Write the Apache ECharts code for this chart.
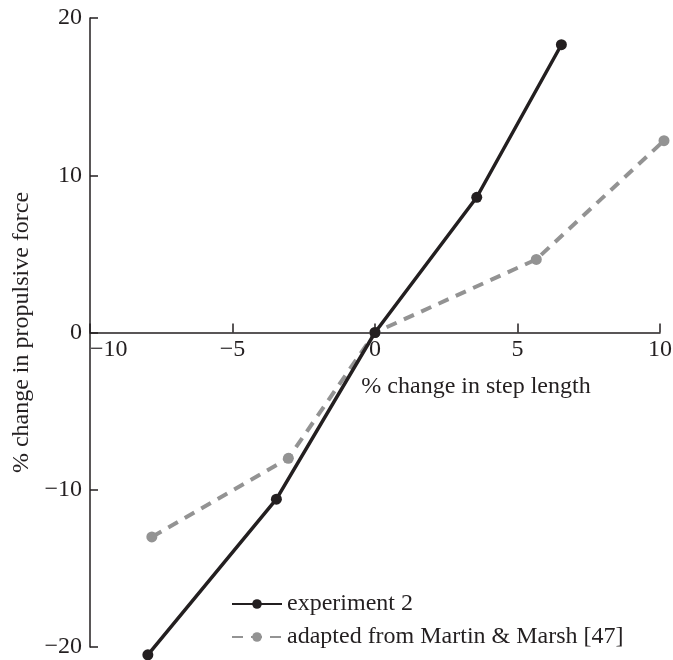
<!DOCTYPE html>
<html>
<head>
<meta charset="utf-8">
<script src="https://cdn.jsdelivr.net/npm/echarts@6/dist/echarts.min.js"></script>
<style>
  html, body { margin: 0; padding: 0; background: #fff; }
  #chart { width: 673px; height: 660px; }
</style>
</head>
<body>
<div id="chart"></div>
<script>
// % change in step length vs % change in propulsive force
const experimentX = [-7.97, -3.46, 0, 3.57, 6.54];
const experimentY = [-20.5, -10.6, 0, 8.6, 18.3];
const martinX = [-7.83, -3.04, 0, 5.66, 10.14];
const martinY = [-13.0, -8.0, 0, 4.65, 12.2];
const xTicks = [-10, -5, 0, 5, 10];
const yTicks = [-20, -10, 0, 10, 20];

const font = '"Liberation Serif", "DejaVu Serif", serif';
const ink = '#231f20';
const grey = '#939393';
const minus = v => String(v).replace('-', '\u2212');

const pairs = (xs, ys) => xs.map((x, i) => [x, ys[i]]);

const gridTop = 18, gridBottom = 13, chartH = 660;
// x axis sits on y = 0, which is the middle of the y range
const xOffset = -(chartH - gridTop - gridBottom) / 2;

const option = {
    animation: false,
    backgroundColor: '#fff',
    grid: {left: 90, right: 13, top: gridTop, bottom: gridBottom, containLabel: false, outerBoundsMode: 'none'},
    legend: {
        orient: 'vertical',
        left: 226, top: 587,
        itemWidth: 50, itemHeight: 12, itemGap: 9,
        textStyle: {fontFamily: font, fontSize: 24, color: ink},
        data: ['experiment 2', 'adapted from Martin & Marsh [47]']
    },
    xAxis: {
        type: 'value',
        position: 'bottom',
        offset: xOffset,
        min: xTicks[0], max: xTicks[xTicks.length - 1], interval: 5,
        name: '% change in step length',
        nameLocation: 'middle', nameGap: 42,
        nameTextStyle: {fontFamily: font, fontSize: 24, color: ink, padding: [0, 0, 0, 202]},
        axisLine: {onZero: false, lineStyle: {color: ink, width: 1.5}},
        axisTick: {inside: true, length: 9, lineStyle: {color: ink, width: 1.5}},
        axisLabel: {
            margin: 5, fontFamily: font, fontSize: 24, color: ink,
            alignMinLabel: 'left',
            formatter: minus
        },
        splitLine: {show: false}
    },
    yAxis: {
        type: 'value',
        min: yTicks[0], max: yTicks[yTicks.length - 1], interval: 10,
        name: '% change in propulsive force',
        nameLocation: 'middle', nameGap: 56,
        nameTextStyle: {fontFamily: font, fontSize: 24, color: ink},
        axisLine: {onZero: false, lineStyle: {color: ink, width: 1.5}},
        axisTick: {inside: true, length: 8, lineStyle: {color: ink, width: 1.5}},
        axisLabel: {margin: 8, fontFamily: font, fontSize: 24, color: ink, formatter: minus},
        splitLine: {show: false}
    },
    series: [
        {
            name: 'experiment 2',
            type: 'line',
            clip: false,
            symbol: 'circle', symbolSize: 11,
            itemStyle: {color: ink},
            lineStyle: {color: ink, width: 3.5},
            data: pairs(experimentX, experimentY),
            z: 3
        },
        {
            name: 'adapted from Martin & Marsh [47]',
            type: 'line',
            clip: false,
            symbol: 'circle', symbolSize: 11,
            itemStyle: {color: grey},
            lineStyle: {color: grey, width: 4, type: [11, 8]},
            data: pairs(martinX, martinY),
            z: 2
        }
    ]
};

const myChart = echarts.init(document.getElementById('chart'));
myChart.setOption(option);
</script>
</body>
</html>
